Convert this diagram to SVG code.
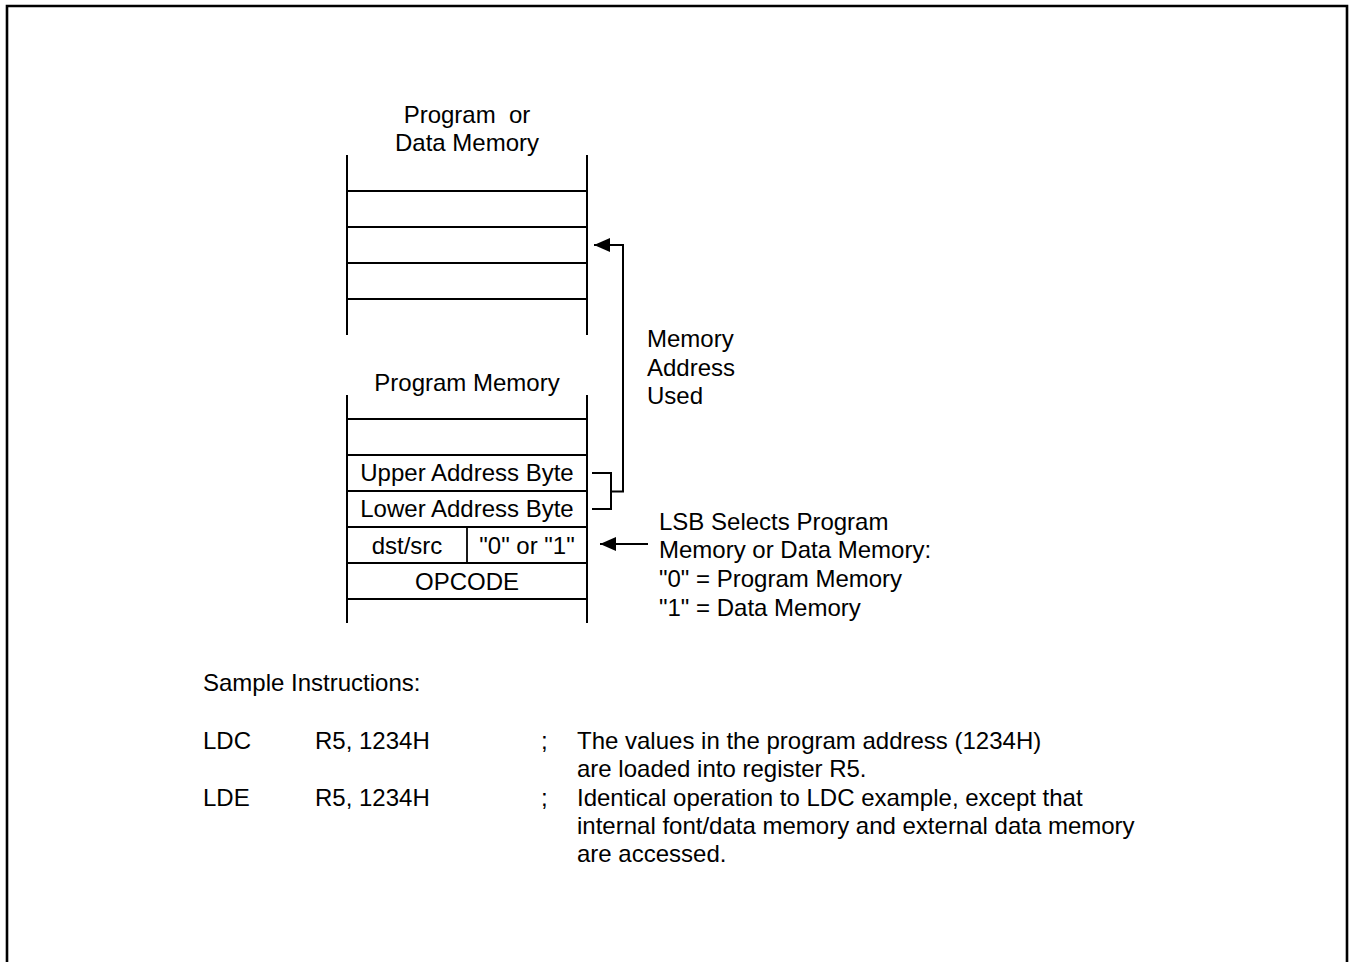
<svg xmlns="http://www.w3.org/2000/svg" width="1349" height="962" viewBox="0 0 1349 962">
<defs>
<style>
text{font-family:"Liberation Sans",Arial,sans-serif;font-size:24px;fill:#000}
.c{text-anchor:middle}
.ln{stroke:#000;stroke-width:2;fill:none}
.hl{stroke:#000;stroke-width:1.8;fill:none}
</style>
<marker id="ah" viewBox="0 0 16 14" refX="16" refY="7" markerWidth="16" markerHeight="14" markerUnits="userSpaceOnUse" orient="auto">
<path d="M0,0 L16,7 L0,14 Z" fill="#000"/>
</marker>
</defs>
<rect width="1349" height="962" fill="#fff"/>
<path d="M7,962 V6 H1347 V962" stroke="#000" stroke-width="2.6" fill="none"/>

<g id="program-or-data-memory">
<text class="c" x="467" y="123" xml:space="preserve">Program  or</text>
<text class="c" x="467" y="151">Data Memory</text>
<line class="ln" x1="347" y1="155" x2="347" y2="335"/>
<line class="ln" x1="587" y1="155" x2="587" y2="335"/>
<line class="hl" x1="347" y1="191" x2="587" y2="191"/>
<line class="hl" x1="347" y1="227" x2="587" y2="227"/>
<line class="hl" x1="347" y1="263" x2="587" y2="263"/>
<line class="hl" x1="347" y1="299" x2="587" y2="299"/>
</g>

<g id="program-memory">
<text class="c" x="467" y="391">Program Memory</text>
<line class="ln" x1="347" y1="395" x2="347" y2="623"/>
<line class="ln" x1="587" y1="395" x2="587" y2="623"/>
<line class="hl" x1="347" y1="419" x2="587" y2="419"/>
<line class="hl" x1="347" y1="455" x2="587" y2="455"/>
<line class="hl" x1="347" y1="491" x2="587" y2="491"/>
<line class="hl" x1="347" y1="527" x2="587" y2="527"/>
<line class="hl" x1="347" y1="563" x2="587" y2="563"/>
<line class="hl" x1="347" y1="599" x2="587" y2="599"/>
<line class="hl" x1="467" y1="527" x2="467" y2="563"/>
<text class="c" x="467" y="481">Upper Address Byte</text>
<text class="c" x="467" y="517">Lower Address Byte</text>
<text class="c" x="407" y="554">dst/src</text>
<text class="c" x="527" y="554">"0" or "1"</text>
<text class="c" x="467" y="590">OPCODE</text>
</g>

<g id="memory-address-used">
<text x="647" y="347">Memory</text>
<text x="647" y="376">Address</text>
<text x="647" y="404">Used</text>
</g>

<g id="lsb-note">
<text x="659" y="530">LSB Selects Program</text>
<text x="659" y="558">Memory or Data Memory:</text>
<text x="659" y="587">"0" = Program Memory</text>
<text x="659" y="616">"1" = Data Memory</text>
</g>

<g id="connectors">
<path class="ln" d="M592,473 H611 V509 H592"/>
<path class="ln" d="M611,491.5 H623 V245 H594" marker-end="url(#ah)"/>
<path class="ln" d="M648,544 H600" marker-end="url(#ah)"/>
</g>

<g id="sample-instructions">
<text x="203" y="691">Sample Instructions:</text>
<text x="203" y="749">LDC</text>
<text x="315" y="749">R5, 1234H</text>
<text x="541" y="749">;</text>
<text x="577" y="749">The values in the program address (1234H)</text>
<text x="577" y="777">are loaded into register R5.</text>
<text x="203" y="806">LDE</text>
<text x="315" y="806">R5, 1234H</text>
<text x="541" y="806">;</text>
<text x="577" y="806">Identical operation to LDC example, except that</text>
<text x="577" y="834">internal font/data memory and external data memory</text>
<text x="577" y="862">are accessed.</text>
</g>
</svg>
